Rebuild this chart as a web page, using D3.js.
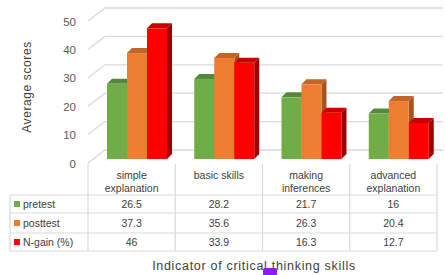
<!DOCTYPE html>
<html><head><meta charset="utf-8">
<script src="https://cdn.jsdelivr.net/npm/d3@7"></script>
<style>body{margin:0;background:#fff}svg{display:block;font-family:"Liberation Sans",Arial,sans-serif}</style>
</head><body>
<svg id="c" width="445" height="275"></svg>
<script>
const categories = [["simple","explanation"],["basic skills"],["making","inferences"],["advanced","explanation"]];
const seriesNames = ["pretest","posttest","N-gain (%)"];
const pretest = [26.5, 28.2, 21.7, 16];
const posttest = [37.3, 35.6, 26.3, 20.4];
const ngain = [46, 33.9, 16.3, 12.7];
const yTicks = [0,10,20,30,40,50];

const colors = ["#70ad47","#ed7d31","#ff0000"];
const topCol = ["#55883a","#c2652a","#c80000"];
const sideCol = ["#4e7d33","#a8531f","#a00000"];
const series = [pretest, posttest, ngain];

const svg = d3.select("#c");
const x = d3.scaleBand().domain(d3.range(categories.length)).range([88,437]);
const yLab = d3.scaleLinear().domain([0,50]).range([163,21]);
const dX = 17, dY = -13;
const yBar = d3.scaleLinear().domain([0,50]).range([159,17]);
const grid = "#d9d9d9";

const g = svg.append("g");
yTicks.forEach(t=>{
  const y0 = yLab(t);
  g.append("path").attr("d",`M88,${y0}L${88+dX},${y0+dY}L443,${y0+dY}`)
   .attr("fill","none").attr("stroke",grid).attr("stroke-width",1.3);
});
const ax = svg.append("g").attr("transform","translate(76,0)")
  .call(d3.axisLeft(yLab).tickValues(yTicks).tickSize(0).tickPadding(0));
ax.select(".domain").remove();
ax.selectAll("text").attr("font-size",11.5).attr("fill","#595959").attr("dy","0.35em");

svg.append("text").attr("transform","translate(31,87) rotate(-90)")
  .attr("text-anchor","middle").attr("font-size",12).attr("letter-spacing",0.6).attr("fill","#404040").text("Average scores");

const bw = 20, off = 19, dpx = 5, dpy = -5;
const bars = svg.append("g");
categories.forEach((c,i)=>{
  series.forEach((s,j)=>{
    const x0 = x(i)+off+j*bw, x1 = x0+bw;
    const yt = yBar(s[i]), yb = yBar(0);
    bars.append("path").attr("d",`M${x1},${yb}L${x1+dpx},${yb+dpy}L${x1+dpx},${yt+dpy}L${x1},${yt}Z`).attr("fill",sideCol[j]);
    bars.append("path").attr("d",`M${x0},${yt}L${x0+dpx},${yt+dpy}L${x1+dpx},${yt+dpy}L${x1},${yt}Z`).attr("fill",topCol[j]);
    bars.append("rect").attr("x",x0).attr("y",yt).attr("width",bw).attr("height",yb-yt).attr("fill",colors[j]);
  });
});

const t = svg.append("g");
const rowY = [195,213,233,251];
const tl = (x1,y1,x2,y2)=>t.append("line").attr("x1",x1).attr("y1",y1).attr("x2",x2).attr("y2",y2).attr("stroke",grid).attr("stroke-width",1.2);
rowY.forEach(y=>tl(10,y,437,y));
tl(10,195,10,251);
d3.range(categories.length+1).forEach(i=>{ const xx = i<categories.length? x(i): 437; tl(xx,164,xx,251); });
categories.forEach((c,i)=>{
  c.forEach((line,k)=>{
    t.append("text").attr("x",x(i)+x.bandwidth()/2).attr("y",179+k*12.5).attr("text-anchor","middle")
     .attr("font-size",10.5).attr("fill","#404040").text(line);
  });
  series.forEach((s,j)=>{
    t.append("text").attr("x",x(i)+x.bandwidth()/2).attr("y",(rowY[j]+rowY[j+1])/2+3.5).attr("text-anchor","middle")
     .attr("font-size",10.5).attr("fill","#404040").text(s[i]);
  });
});
seriesNames.forEach((n,j)=>{
  const yc = (rowY[j]+rowY[j+1])/2;
  t.append("rect").attr("x",14).attr("y",yc-3).attr("width",6).attr("height",6).attr("fill",colors[j]);
  t.append("text").attr("x",23).attr("y",yc+3.5).attr("font-size",10.5).attr("fill","#404040").text(n);
});

svg.append("text").attr("x",254).attr("y",270).attr("text-anchor","middle").attr("font-size",12.5)
  .attr("letter-spacing",0.7).attr("fill","#404040").text("Indicator of critical thinking skills");
svg.append("rect").attr("x",263).attr("y",268).attr("width",14).attr("height",8).attr("rx",2).attr("fill","#8b1cf0");
</script>
</body></html>
